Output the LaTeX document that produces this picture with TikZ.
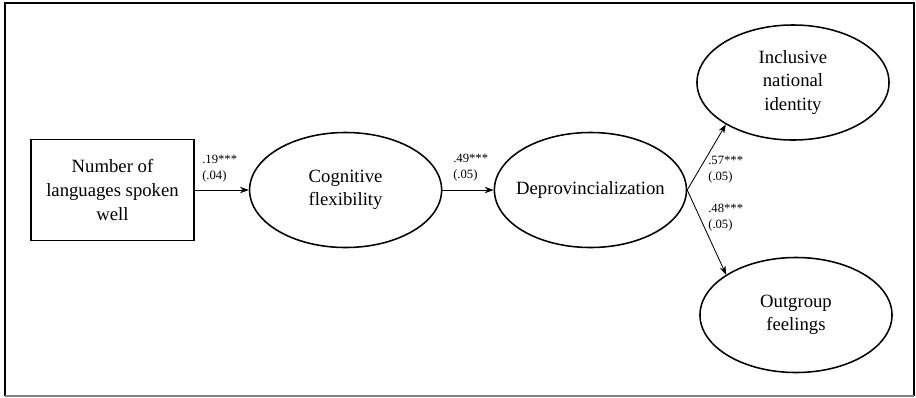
\documentclass[tikz,border=0pt]{standalone}
\usepackage{fontspec}
\setmainfont{Liberation Serif}
\usepackage{tikz}
\usetikzlibrary{positioning, arrows.meta, shapes.geometric}

\begin{document}
\begin{tikzpicture}[
    x=0.025cm, y=-0.025cm,
    observed/.style={rectangle, draw, line width=1.1pt, minimum width=4.075cm,
                     minimum height=2.525cm, align=center, inner sep=0pt,
                     font=\fontsize{13.3}{16.8}\selectfont},
    latent/.style={ellipse, draw, line width=1.1pt, minimum width=4.8cm,
                   minimum height=2.875cm, align=center, inner sep=0pt,
                   font=\fontsize{13.3}{16.8}\selectfont},
    arr/.style={-{Stealth[length=2.2mm, width=1.6mm]}, line width=0.6pt},
    coef/.style={font=\fontsize{9}{11.4}\selectfont, align=left, inner sep=0pt,
                 anchor=south west}
  ]
  % Frame
  \useasboundingbox (0,0) rectangle (916,397);
  \draw[line width=1.2pt] (5,396) -- (5,3) -- (914,3) -- (914,396);
  \draw[gray, line width=0.8pt] (5,396) -- (914,396);

  % Variables
  \node[observed] (lang) at (112.5,190) {Number of\\languages spoken\\well};
  \node[latent, right=1.35cm of lang] (cog) {Cognitive\\flexibility};
  \node[latent, right=1.28cm of cog, inner xsep=-9pt] (dep) {Deprovincialization};
  \node[latent] (incl) at (793,82.5) {Inclusive\\national\\identity};
  \node[latent] (outg) at (796,315) {Outgroup\\feelings};

  % Paths
  \draw[arr] (lang) -- (cog);
  \draw[arr] (cog) -- (dep);
  \draw[arr] (dep.east) -- (incl.212);
  \draw[arr] (dep.east) -- (outg.150);

  % Coefficients
  \node[coef] (c1) at (202,182) {.19***\\(.04)};
  \node[coef] (c2) at (453,181) {.49***\\(.05)};
  \node[coef] (c3) at (708,183) {.57***\\(.05)};
  \node[coef] (c4) at (708,231) {.48***\\(.05)};
\end{tikzpicture}
\end{document}
